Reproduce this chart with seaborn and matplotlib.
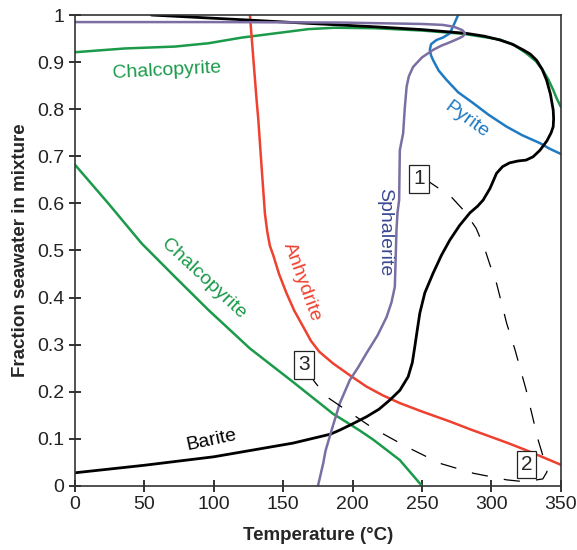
import numpy as np
import pandas as pd
from matplotlib import pyplot as plt
from matplotlib.ticker import FuncFormatter, MultipleLocator
import seaborn as sns

# curves: temperature (°C) and fraction seawater
barite_t = [0, 50, 100, 157, 184, 191, 200, 210, 219, 227, 234, 240, 243, 244.8, 246.5, 248.4, 252,
            258, 264, 270, 277, 284.5, 290, 294, 299, 303.7, 308, 313, 319, 325, 330, 335, 340, 343,
            344.5, 344.8, 344.5, 342.5, 339.7, 336.5, 332.5, 328, 322.8, 315, 306, 295, 282, 250, 216,
            170, 127, 55]
barite_f = [0.028, 0.044, 0.062, 0.091, 0.11, 0.119, 0.132, 0.147, 0.163, 0.183, 0.203, 0.232, 0.262,
            0.296, 0.33, 0.367, 0.41, 0.452, 0.49, 0.522, 0.553, 0.58, 0.594, 0.607, 0.632, 0.664,
            0.678, 0.686, 0.69, 0.692, 0.699, 0.713, 0.733, 0.75, 0.763, 0.78, 0.798, 0.832, 0.862,
            0.885, 0.904, 0.917, 0.926, 0.938, 0.947, 0.955, 0.961, 0.969, 0.975, 0.982, 0.989, 1.0]

sphalerite_t = [0, 100, 191, 250, 265, 273, 279, 281, 279.5, 277, 270, 264, 258, 250, 243.6, 240.5,
                238.9, 237.5, 236.4, 234, 233.5, 232.3, 231.6, 230.4, 228, 224.5, 218, 210, 204, 198,
                190.8, 184.9, 180.5, 178.8, 175]
sphalerite_f = [0.985, 0.985, 0.984, 0.981, 0.979, 0.975, 0.968, 0.961, 0.955, 0.951, 0.942, 0.935,
                0.926, 0.91, 0.89, 0.87, 0.848, 0.8, 0.749, 0.713, 0.607, 0.58, 0.5435, 0.423, 0.39,
                0.359, 0.32, 0.282, 0.252, 0.225, 0.176, 0.119, 0.075, 0.048, 0.0]

chalco_hi_t = [0, 36, 72, 96, 120, 144, 168, 187, 216, 250, 280, 306, 316, 325, 332, 337, 341, 344.5,
               347, 350]
chalco_hi_f = [0.921, 0.929, 0.933, 0.94, 0.952, 0.961, 0.97, 0.973, 0.972, 0.967, 0.96, 0.948, 0.937,
               0.919, 0.902, 0.883, 0.863, 0.841, 0.823, 0.805]

chalco_lo_t = [0, 24, 48, 72, 96, 126, 157, 186, 191, 205, 215, 234, 250]
chalco_lo_f = [0.682, 0.6, 0.515, 0.444, 0.374, 0.292, 0.221, 0.153, 0.144, 0.118, 0.098, 0.055, 0.0]

anhydrite_t = [126, 130.8, 132, 134.4, 136.8, 138.5, 140.4, 142.8, 147, 152.4, 158, 164.4, 170, 176,
               186, 198, 210, 222, 234, 250, 270, 285, 299, 312, 325, 338, 350]
anhydrite_f = [1.0, 0.82, 0.78, 0.678, 0.579, 0.54, 0.51, 0.49, 0.45, 0.409, 0.372, 0.338, 0.308,
               0.285, 0.26, 0.235, 0.211, 0.192, 0.176, 0.158, 0.137, 0.12, 0.105, 0.091, 0.076, 0.06,
               0.045]

pyrite_t = [276, 273, 270, 265, 260.4, 256.5, 255.6, 256.5, 258, 262, 267.7, 276, 286.8, 298, 310.9,
            322, 334.9, 342, 350]
pyrite_f = [1.0, 0.98, 0.961, 0.952, 0.947, 0.938, 0.926, 0.914, 0.904, 0.882, 0.862, 0.836, 0.813,
            0.788, 0.763, 0.745, 0.728, 0.716, 0.705]

path_t = [252, 271, 281, 289, 295, 299, 303.7, 311, 317, 325, 333.6, 338, 340, 337, 324, 311, 287, 263,
          239, 215, 191, 181, 171.6]
path_f = [0.652, 0.614, 0.582, 0.547, 0.505, 0.469, 0.43, 0.345, 0.289, 0.204, 0.098, 0.055, 0.03,
          0.015, 0.009, 0.013, 0.027, 0.048, 0.083, 0.122, 0.17, 0.19, 0.225]

box_labels = ['1', '2', '3']
box_t = [248, 325.3, 165]
box_f = [0.652, 0.045, 0.257]

curve_labels = ['Chalcopyrite', 'Chalcopyrite', 'Pyrite', 'Sphalerite', 'Anhydrite', 'Barite']
curve_label_t = [66, 92.4, 282, 223, 163.3, 98.4]
curve_label_f = [0.882, 0.44, 0.777, 0.54, 0.434, 0.098]
curve_label_rot = [3, -43, -36, -90, -70, 12]

GREEN = '#1b9a4a'
RED = '#ef4130'
BLUE = '#1f7ac2'
PURPLE = '#7a6ea3'
label_colors = [GREEN, GREEN, BLUE, '#3b4893', RED, 'black']


def plot_curve(ax, t, f, **kw):
    df = pd.DataFrame({'t': t, 'f': f})
    sns.lineplot(data=df, x='t', y='f', sort=False, estimator=None, ax=ax, **kw)


def main():
    sns.set_theme(style='ticks')
    plt.rcParams['font.family'] = ['Liberation Sans', 'DejaVu Sans']

    fig = plt.figure(figsize=(5.77, 5.5), dpi=100)
    ax = fig.add_axes([0.130, 0.1164, 0.842, 0.8563])

    plot_curve(ax, chalco_hi_t, chalco_hi_f, color=GREEN, lw=1.8)
    plot_curve(ax, chalco_lo_t, chalco_lo_f, color=GREEN, lw=1.8)
    plot_curve(ax, anhydrite_t, anhydrite_f, color=RED, lw=1.8)
    plot_curve(ax, pyrite_t, pyrite_f, color=BLUE, lw=1.8)
    plot_curve(ax, barite_t, barite_f, color='black', lw=2.0)
    plot_curve(ax, sphalerite_t, sphalerite_f, color=PURPLE, lw=1.8)
    plot_curve(ax, path_t, path_f, color='black', lw=0.9, dashes=False,
               linestyle=(0, (13, 13)))

    for lab, t, f in zip(box_labels, box_t, box_f):
        ax.text(t, f, lab, fontsize=15, ha='center', va='center', zorder=5,
                bbox=dict(boxstyle='square,pad=0.2', fc='white', ec='#222222', lw=0.9))

    for lab, t, f, rot, c in zip(curve_labels, curve_label_t, curve_label_f, curve_label_rot, label_colors):
        ax.text(t, f, lab, fontsize=14, color=c, rotation=rot, ha='center', va='center',
                rotation_mode='anchor')

    ax.set_xlim(0, 350)
    ax.set_ylim(0, 1)
    ax.xaxis.set_major_locator(MultipleLocator(50))
    ax.yaxis.set_major_locator(MultipleLocator(0.1))
    ax.yaxis.set_major_formatter(FuncFormatter(lambda v, p: f'{v:g}'))
    ax.tick_params(direction='inout', length=8, width=1.3, labelsize=14, colors='#222222')
    for s in ax.spines.values():
        s.set_visible(True)
        s.set_linewidth(1.2)
        s.set_color('#333333')

    ax.set_xlabel('Temperature (°C)', fontsize=13.5, fontweight='bold', labelpad=10)
    ax.set_ylabel('Fraction seawater in mixture', fontsize=13.5, fontweight='bold', labelpad=6)

    fig.savefig('out.png', dpi=100)


if __name__ == '__main__':
    main()
